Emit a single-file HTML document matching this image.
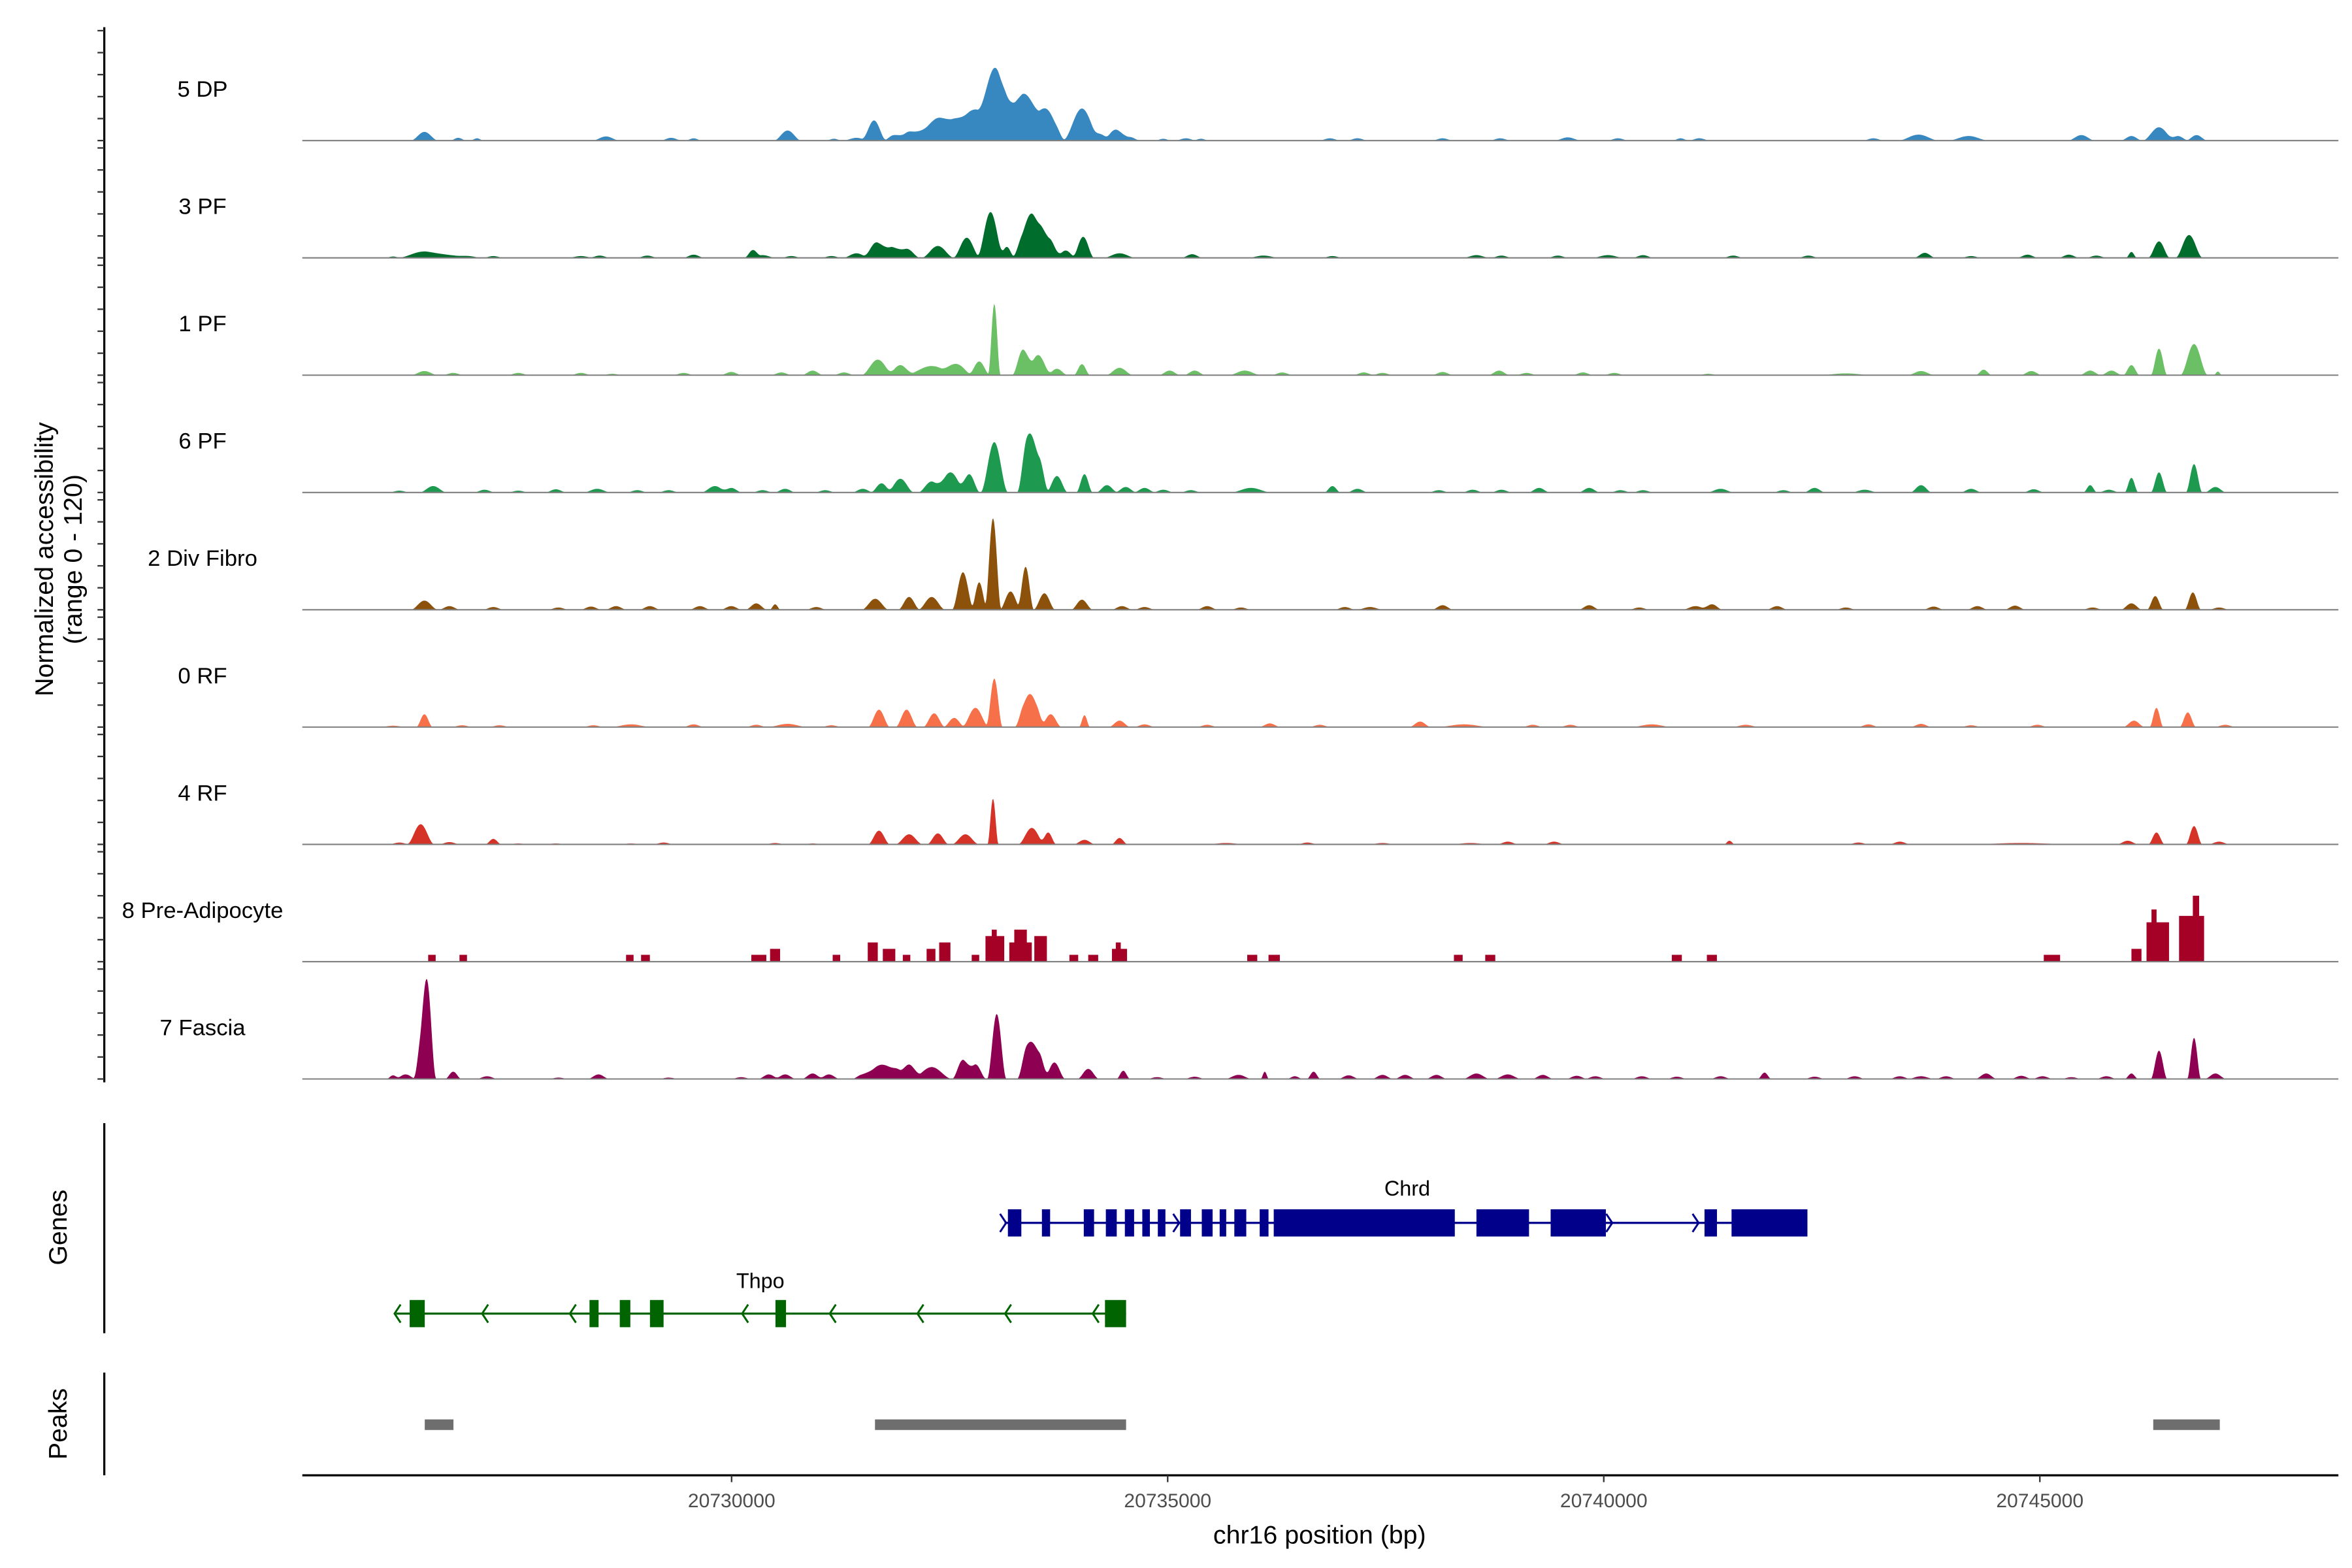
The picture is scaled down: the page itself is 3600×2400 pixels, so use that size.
<!DOCTYPE html>
<html><head><meta charset="utf-8"><style>
html,body{margin:0;padding:0;background:#fff;}
svg{display:block;font-family:"Liberation Sans",Arial,sans-serif;}
</style></head><body>
<svg id="chart" width="3600" height="2400" viewBox="0 0 1556 1037.3" preserveAspectRatio="none" xmlns="http://www.w3.org/2000/svg">
<rect x="0" y="0" width="1556" height="1037.3" fill="#fff"/>
<g id="tracks"></g>
<g id="yaxis"></g>
<g id="genes"></g>
<g id="peaks"></g>
<g id="xaxis"></g>
<text transform="translate(35,370) rotate(-90)" text-anchor="middle" font-size="17" fill="#000">Normalized accessibility</text>
<text transform="translate(54,370) rotate(-90)" text-anchor="middle" font-size="17" fill="#000">(range 0 - 120)</text>
<text transform="translate(44,812) rotate(-90)" text-anchor="middle" font-size="17" fill="#000">Genes</text>
<text transform="translate(44,942) rotate(-90)" text-anchor="middle" font-size="17" fill="#000">Peaks</text>
<text x="873" y="1021" text-anchor="middle" font-size="17" fill="#000">chr16 position (bp)</text>
</svg>
<script>
// coverage offsets are relative to this origin (bp)
const origin = 20724970;
// gene / peak offsets are relative to this origin (bp)
const geneOrigin = 20730000;
const trackNames = ["5 DP","3 PF","1 PF","6 PF","2 Div Fibro","0 RF","4 RF","8 Pre-Adipocyte","7 Fascia"];
const trackColors = ["#3787C0","#006D2C","#6BBF64","#1D9A50","#8C510A","#F6704A","#D63328","#A50026","#8E0152"];

const dpPos=[1508,1896,2111,3590,4337,4595,5672,6204,6462,6663,6893,7079,7324,7496,7826,8070,8228,8372,8559,8702,9047,9262,9435,9592,9980,10239,10411,11890,12206,13182,13843,14618,15193,15911,16126,18122,18639,19213,20506,21080,21396,21612,21827];
const dpHeight=[9.5,3,2.5,4.5,3,2.5,11,2,3,22,6,10,17,18,34,67,22,51,32,22,35,7,12,4,2,2.5,2,2.5,2.5,2.5,2.5,3.5,2.5,2.5,2.5,2.5,6.5,5,6,5,14.5,5,6];
const dpWidth=[100,60,50,100,80,60,100,60,100,90,80,120,150,150,250,140,80,120,120,100,140,60,100,80,60,80,60,80,80,80,80,100,80,60,80,80,150,150,100,80,120,80,80];

const pf3Pos=[1149,1508,1795,2010,2298,3303,3518,4064,4595,5270,5385,5715,6175,6462,6692,6864,7036,7395,7726,7999,8185,8401,8515,8659,8860,9061,9478,10310,11129,11919,13570,13857,14504,15078,15480,16514,17376,18711,19242,19889,20363,20678,21080,21396,21741];
const pf3Height=[1.5,7,3,2,2,2,2.5,2.5,3.5,8,3,2,2,5,17,12,10,13,22,50,12,30,37,22,8,23,5,4,2.5,2,3,2.5,2.5,3,3,2.5,2.5,5.5,2,3.5,3.5,2.5,6.5,18,25];
const pf3Width=[60,200,150,100,80,100,80,80,80,60,100,80,80,100,100,100,100,120,100,100,60,100,100,100,80,80,120,80,120,80,100,80,80,120,80,80,80,80,80,80,80,80,40,80,100];

const pf1Pos=[1508,1838,2585,3303,3662,4480,5026,5600,5959,6318,6706,6965,7324,7611,7869,8042,8372,8544,8760,9047,9478,10052,10339,10914,11344,12278,12493,13182,13829,14145,14791,15150,16227,17806,18668,19386,19932,20607,20851,21080,21396,21798,22071];
const pf1Height=[4.5,2.5,2.5,2.5,1.5,2.5,3.5,3,5,3,17,11,10,12,15,78,28,22,7,12,8,5,5,5,3,3,2.5,3.5,5,2.5,3,2.5,1.5,2,4.5,6,4.5,5,5,11,29,34,4];
const pf1Width=[100,80,80,80,80,80,80,80,80,80,120,100,200,120,80,45,80,100,80,60,100,80,80,120,80,80,80,80,80,80,80,80,80,200,100,60,80,80,80,60,60,100,30];

const pf6Pos=[1221,1608,2197,2585,3016,3489,3949,4308,4839,5026,5385,5644,6103,6534,6749,6965,7324,7539,7754,8042,8429,8544,8760,9076,9334,9549,9765,9980,10296,10985,11919,12206,13139,13527,13857,14288,14863,15222,15480,16370,17089,17447,18022,18668,19242,19960,20607,20822,21080,21396,21798,22043];
const pf6Height=[2,7,3,2,3.5,4,2.5,2.5,7,5,2.5,4,2.5,4,10,15,12,22,20,55,62,40,18,20,8,6,5,3,2.5,5,7,4,2.5,3,3,5,5,2.5,2.5,4,2.5,5,3,8,4,3.5,8,3,16,22,31,6];
const pf6Width=[80,100,80,80,80,100,80,80,100,80,80,80,80,80,80,100,100,120,80,100,80,80,80,60,80,80,80,80,80,150,60,80,80,80,80,80,80,80,80,100,80,80,100,80,80,80,50,80,50,60,60,80];

const divPos=[1508,1795,2298,3044,3418,3705,4093,4667,5026,5313,5529,6002,6677,7065,7324,7683,7869,8027,8228,8401,8616,9047,9506,9765,10483,10870,12062,12350,13182,14863,15437,16083,16270,17017,17806,18812,19314,19745,20635,21080,21353,21784,22085];
const divHeight=[10,4,3,2.5,3.5,4,4,4,4,7,6,3,12,14,14,41,30,100,20,47,18,11,4,3,4,2.5,3,3,5,5,2.5,4,6,4,2.5,3.5,4,4.5,2.5,7,15,19,2.5];
const divWidth=[100,80,80,80,80,80,80,80,80,80,40,80,100,80,100,80,60,60,80,60,80,80,80,80,80,80,80,100,80,80,80,100,80,80,80,80,80,80,80,80,60,60,80];

const rf0Pos=[1149,1508,1939,2369,3446,3877,4595,5313,5672,6175,6720,7036,7352,7582,7826,8042,8401,8501,8688,9076,9478,9765,10483,11201,11775,12924,13427,14216,14647,15580,16658,18065,18668,19242,20002,21109,21367,21726,22155];
const rf0Height=[1.5,14,2,2,2,3,3,2.5,3.5,2,19,19,15,10,21,53,27,27,14,13,7,3,2.5,4,2.5,6,3,2.5,2.5,3,2.5,3,3.5,2,2.5,7,21,16,2.5];
const rf0Width=[100,60,80,80,80,150,80,80,150,80,80,80,80,80,100,60,80,80,80,40,80,80,80,80,80,80,200,80,80,150,100,80,80,80,80,80,50,60,80];

const rf4Pos=[1221,1465,1795,2298,2585,3016,3877,4251,5529,5959,6720,7065,7395,7711,8027,8472,8659,9076,9478,10698,11632,12493,13498,13929,14461,16471,17950,18424,19817,21037,21367,21798,22085];
const rf4Height=[2,22,2.5,6,1,1,1,2,1.5,1,15,11,12,11,50,18,13,5,7,1.5,2,1.5,1.5,3,3,4,2,3,1.5,4,13,20,3];
const rf4Width=[80,100,80,60,80,80,80,80,80,80,80,100,80,100,40,100,60,80,60,150,80,100,150,80,80,40,80,80,400,80,60,60,80];

const preStart=[1551,1910,3820,3992,5256,5471,6189,6591,6764,6993,7266,7410,7783,7941,8013,8214,8271,8501,8903,9119,9391,9435,10942,11186,13312,13671,15810,16212,20075,21080,21253,21310,21626,21784];
const preEnd=[1637,1996,3906,4093,5428,5586,6275,6706,6907,7079,7367,7539,7869,8156,8070,8472,8415,8645,9004,9233,9564,9492,11057,11316,13412,13786,15925,16327,20262,21195,21511,21368,21913,21856];
const preHeight=[7.5,7.5,7.5,7.5,7.5,14,7.5,21,14,7.5,14,21,7.5,28,35,21,35,28,7.5,7.5,14,21,7.5,7.5,7.5,7.5,7.5,7.5,7.5,14,43,57,50,72];

const fasPos=[1149,1292,1508,1551,1838,2226,3044,3504,4308,5141,5457,5644,5959,6146,6534,6706,6893,7079,7324,7683,7826,8070,8429,8544,8731,9119,9521,9908,10339,10842,11143,11488,11703,12105,12493,12752,13111,13570,13929,14331,14719,14934,15466,15868,16370,16873,17447,17906,18424,18668,18955,19414,19817,20061,20392,20793,21080,21396,21798,22043];
const fasHeight=[4,5,68,52,8,3,1.5,5,1.5,2,5,5,6,5,5,13,12,14,13,21,16,71,38,30,18,11,9,2,2.5,4.5,8,3,8,4,4.5,4.5,4.5,6,5,4.5,3.5,3,3,2.5,3,7,2.5,3,3,3,3,6,3.5,3,2,3,6,31,45,6];
const fasWidth=[50,80,80,60,60,80,80,80,80,80,80,80,80,80,80,120,150,80,150,80,80,70,80,80,80,80,50,80,80,100,30,60,50,80,80,80,80,100,100,80,80,80,80,80,80,50,80,80,80,100,80,80,80,80,80,80,50,60,50,80];

const tickValues=[20730000,20735000,20740000,20745000];
const tickLabels=["20730000","20735000","20740000","20745000"];

const chrdExonStart=[3168,3558,4038,4291,4509,4709,4887,5142,5391,5596,5764,6055,6216,8540,9391,11155,11465];
const chrdExonEnd=[3322,3652,4156,4416,4615,4796,4974,5267,5515,5671,5901,6156,8292,9143,10024,11298,12335];
const chrdArrows=[3130,5115,10080,11070];
const thpoExonStart=[-3691,-1629,-1282,-936,503,4281];
const thpoExonEnd=[-3518,-1525,-1161,-780,624,4523];
const thpoArrows=[-3847,-2843,-1837,138,1143,2148,3153,4158];
const peakStart=[-3518,1644,16300];
const peakEnd=[-3189,4523,17063];

const NS="http://www.w3.org/2000/svg";
const X0=484, BP0=20730000, PXBP=0.0577;
function xBp(bp){return X0+(bp-BP0)*PXBP;}
function xOff(off){return xBp(origin+off);}
function xGene(off){return xBp(geneOrigin+off);}
const baseY0=93, pitch=77.6, unitPx=0.606, widthScale=1.6;
function yVal(i,v){return baseY0+i*pitch - v*unitPx;}
function mk(tag,attrs,parent){const e=document.createElementNS(NS,tag);for(const k in attrs)e.setAttribute(k,attrs[k]);parent.appendChild(e);return e;}

const tracksG=document.getElementById('tracks');
const series=[[dpPos,dpHeight,dpWidth],[pf3Pos,pf3Height,pf3Width],[pf1Pos,pf1Height,pf1Width],[pf6Pos,pf6Height,pf6Width],[divPos,divHeight,divWidth],[rf0Pos,rf0Height,rf0Width],[rf4Pos,rf4Height,rf4Width],null,[fasPos,fasHeight,fasWidth]];
for(let i=0;i<9;i++){
  const base=baseY0+i*pitch;
  const lab=mk('text',{x:134,y:base-29,'text-anchor':'middle','font-size':15,fill:'#000'},tracksG);
  lab.textContent=trackNames[i];
  
  
  const g=mk('g',{},tracksG);
  
  
  if(series[i]){
    const [P,H,W]=series[i];
    let d='M'+xOff(1000).toFixed(2)+','+base;
    for(let off=1000;off<=22300;off+=10){
      let v=0;
      for(let k=0;k<P.length;k++){
        const w=W[k]*widthScale;
        const t=Math.abs(off-P[k])/w;
        if(t<1)v+=H[k]*0.5*(1+Math.cos(Math.PI*t));
      }
      d+=' L'+xOff(off).toFixed(2)+','+yVal(i,v).toFixed(2);
    }
    d+=' L'+xOff(22300).toFixed(2)+','+base+' Z';
    const p=mk('path',{d:d,fill:trackColors[i],stroke:'none'},g);
    
    
  } else {
    for(let k=0;k<preStart.length;k++){
      const r=mk('rect',{x:xOff(preStart[k]),y:yVal(i,preHeight[k]),width:xOff(preEnd[k])-xOff(preStart[k]),height:preHeight[k]*unitPx,fill:trackColors[i]},g);
      
      
    }
  }
  const bl=mk('line',{x1:200,x2:1547,y1:base,y2:base,stroke:'#7f7f7f','stroke-width':0.9},tracksG);
  
  
}

// y axis
const yG=document.getElementById('yaxis');
mk('line',{x1:69,x2:69,y1:18,y2:716,stroke:'#000','stroke-width':1.4},yG);
for(let i=0;i<9;i++){
  for(let k=0;k<=5;k++){
    const y=yVal(i,k*24);
    const t=mk('line',{x1:64.5,x2:69,y1:y,y2:y,stroke:'#333','stroke-width':1},yG);
    
    
  }
}
mk('line',{x1:69,x2:69,y1:743,y2:882,stroke:'#000','stroke-width':1.4},yG);
mk('line',{x1:69,x2:69,y1:908,y2:976,stroke:'#000','stroke-width':1.4},yG);

// genes
const gG=document.getElementById('genes');
function drawGene(name,color,y,starts,ends,arrows,dir,labX,labY){
  const g=mk('g',{},gG);
  
  
  const allS=Math.min(...starts,...arrows), allE=Math.max(...ends,...arrows);
  mk('line',{x1:xGene(allS),x2:xGene(allE),y1:y,y2:y,stroke:color,'stroke-width':1.4},g);
  for(let k=0;k<starts.length;k++){
    const r=mk('rect',{x:xGene(starts[k]),y:y-9,width:xGene(ends[k])-xGene(starts[k]),height:18,fill:color},g);
    
    
  }
  for(let k=0;k<arrows.length;k++){
    const ax=xGene(arrows[k]);
    const d=dir>0?`M${ax-3},${y-6} L${ax+1},${y} L${ax-3},${y+6}`:`M${ax+3},${y-6} L${ax-1},${y} L${ax+3},${y+6}`;
    const a=mk('path',{d:d,fill:'none',stroke:color,'stroke-width':1.3},g);
    
    
  }
  const t=mk('text',{x:labX,y:labY,'text-anchor':'middle','font-size':14,fill:'#000'},g);
  t.textContent=name;
  
  
}
drawGene('Chrd','#00008B',809,chrdExonStart,chrdExonEnd,chrdArrows,1,931,791);
drawGene('Thpo','#006400',869,thpoExonStart,thpoExonEnd,thpoArrows,-1,503,852);

// peaks
const pG=document.getElementById('peaks');
for(let k=0;k<peakStart.length;k++){
  const r=mk('rect',{x:xGene(peakStart[k]),y:939,width:xGene(peakEnd[k])-xGene(peakStart[k]),height:7,fill:'#6E6E6E'},pG);
  
  
}

// x axis
const xG=document.getElementById('xaxis');
mk('line',{x1:200,x2:1547,y1:976,y2:976,stroke:'#000','stroke-width':1.4},xG);
for(let k=0;k<tickValues.length;k++){
  const x=xBp(tickValues[k]);
  const t=mk('line',{x1:x,x2:x,y1:976,y2:980.5,stroke:'#333','stroke-width':1},xG);
  
  
  const l=mk('text',{x:x,y:997,'text-anchor':'middle','font-size':13,fill:'#4D4D4D'},xG);
  l.textContent=tickLabels[k];
  
  
}
</script>
</body></html>
